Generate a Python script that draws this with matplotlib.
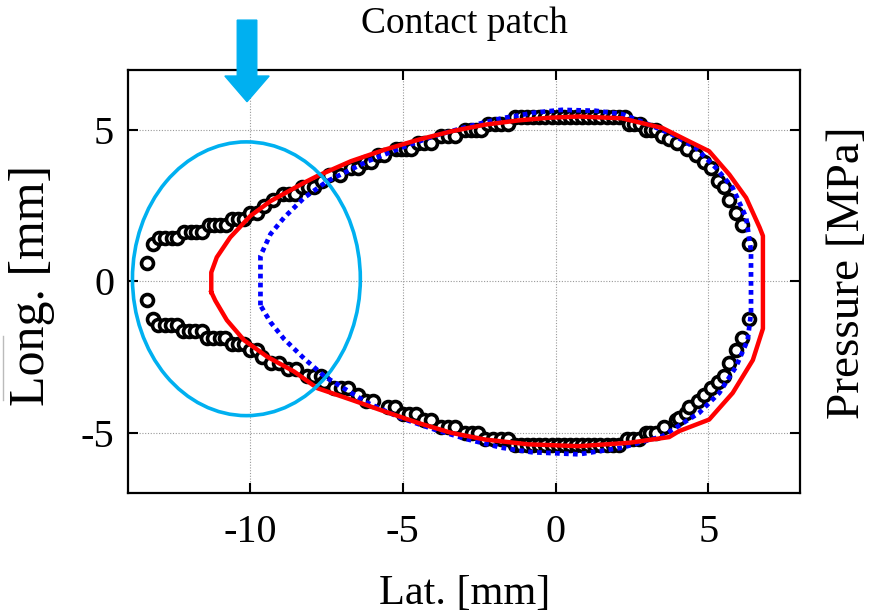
import matplotlib
matplotlib.use("Agg")
import matplotlib.pyplot as plt
from matplotlib.patches import Ellipse, FancyArrow
from matplotlib.lines import Line2D

plt.rcParams['font.family'] = ['Liberation Serif', 'DejaVu Serif']
plt.rcParams['axes.unicode_minus'] = False

# measured contour (black circles), upper branch left -> right
upper_lat = [-13.36, -13.19,
             -12.97, -12.77, -12.57, -12.38,
             -12.15, -11.95, -11.76, -11.57,
             -11.36, -11.17, -10.98, -10.80,
             -10.59, -10.40, -10.20,
             -9.99, -9.78,
             -9.55,
             -9.24,
             -8.92, -8.72, -8.53,
             -8.30, -8.10, -7.90,
             -7.63,
             -7.40, -7.05,
             -6.70, -6.48,
             -6.25, -6.04,
             -5.80, -5.60,
             -5.23, -5.05, -4.88, -4.74,
             -4.50, -4.29, -4.08,
             -3.75, -3.52, -3.29,
             -2.96, -2.78, -2.60, -2.43,
             -2.20, -1.98, -1.77, -1.55,
             -1.33, -1.13, -0.93, -0.73, -0.53, -0.33, -0.13, 0.07, 0.27, 0.47,
             0.67, 0.87, 1.07, 1.27, 1.47, 1.67, 1.87, 2.07, 2.27,
             2.40, 2.58, 2.76,
             2.97, 3.14, 3.30,
             3.50, 3.72,
             3.99,
             4.32,
             4.60,
             4.87,
             5.09,
             5.31,
             5.53,
             5.69,
             5.91,
             6.11,
             6.35]
upper_long = [0.62, 1.23,
              1.44, 1.44, 1.44, 1.44,
              1.65, 1.65, 1.65, 1.65,
              1.86, 1.86, 1.86, 1.86,
              2.07, 2.07, 2.07,
              2.28, 2.28,
              2.49,
              2.70,
              2.91, 2.91, 2.91,
              3.12, 3.12, 3.12,
              3.33,
              3.54, 3.54,
              3.75, 3.75,
              3.96, 3.96,
              4.17, 4.17,
              4.38, 4.38, 4.38, 4.38,
              4.59, 4.59, 4.59,
              4.80, 4.80, 4.80,
              5.01, 5.01, 5.01, 5.01,
              5.22, 5.22, 5.22, 5.22,
              5.43, 5.43, 5.43, 5.43, 5.43, 5.43, 5.43, 5.43, 5.43, 5.43,
              5.43, 5.43, 5.43, 5.43, 5.43, 5.43, 5.43, 5.43, 5.43,
              5.22, 5.22, 5.22,
              5.01, 5.01, 5.01,
              4.80, 4.70,
              4.59,
              4.38,
              4.17,
              3.96,
              3.75,
              3.33,
              3.12,
              2.70,
              2.28,
              1.86,
              1.23]

# lower branch left -> right
lower_lat = [-13.36, -13.17,
             -13.00, -12.80, -12.60, -12.40,
             -12.20, -12.00, -11.79, -11.58,
             -11.40, -11.20, -11.00, -10.81,
             -10.60, -10.40, -10.20,
             -10.00, -9.77,
             -9.60,
             -9.33, -9.05,
             -8.75, -8.50,
             -8.12, -7.90, -7.69,
             -7.58,
             -7.25, -7.03, -6.80,
             -6.48,
             -6.20, -5.99,
             -5.50, -5.27,
             -5.00, -4.79, -4.57,
             -4.29, -4.08,
             -3.75, -3.52, -3.30,
             -2.97, -2.75, -2.53,
             -2.31, -2.06, -1.80, -1.55,
             -1.33, -1.13, -0.93, -0.73, -0.53, -0.33, -0.13, 0.07, 0.27, 0.47,
             0.67, 0.87, 1.07, 1.27, 1.47, 1.67, 1.87, 2.07,
             2.35, 2.54, 2.73,
             2.95, 3.10, 3.28,
             3.55,
             3.94, 4.05,
             4.27,
             4.38,
             4.65,
             4.87,
             5.09,
             5.31,
             5.53,
             5.69,
             5.91,
             6.11,
             6.35]
lower_long = [-0.62, -1.23,
              -1.44, -1.44, -1.44, -1.44,
              -1.65, -1.65, -1.65, -1.65,
              -1.86, -1.86, -1.86, -1.86,
              -2.07, -2.07, -2.07,
              -2.28, -2.28,
              -2.49,
              -2.70, -2.70,
              -2.91, -2.91,
              -3.12, -3.12, -3.12,
              -3.33,
              -3.54, -3.54, -3.54,
              -3.75,
              -3.96, -3.96,
              -4.17, -4.17,
              -4.38, -4.38, -4.38,
              -4.59, -4.59,
              -4.80, -4.80, -4.80,
              -5.01, -5.01, -5.01,
              -5.22, -5.22, -5.22, -5.22,
              -5.40, -5.40, -5.40, -5.40, -5.40, -5.40, -5.40, -5.40, -5.40, -5.40,
              -5.40, -5.40, -5.40, -5.40, -5.40, -5.40, -5.40, -5.40,
              -5.22, -5.22, -5.22,
              -5.01, -5.01, -5.01,
              -4.80,
              -4.59, -4.52,
              -4.35,
              -4.17,
              -3.96,
              -3.75,
              -3.54,
              -3.33,
              -3.12,
              -2.70,
              -2.28,
              -1.86,
              -1.23]

# simulation 1 (red solid), closed contour
red_lat = [-11.27, -11.27, -11.09, -10.65, -9.99, -9.33, -8.23, -7.80, -6.70, -5.60,
           -4.50, -3.41, -2.31, -1.22, -0.20, 0.76, 2.18, 3.50, 4.27, 5.03,
           5.69, 6.24, 6.68, 6.79, 6.79, 6.46, 5.80, 5.03, 4.05, 3.72,
           2.40, 0.76, -0.89, -2.31, -3.41, -4.50, -5.60, -6.70, -7.80, -8.56,
           -9.44, -10.20, -10.76, -11.14, -11.27]
red_long = [-0.35, 0.30, 0.80, 1.46, 2.17, 2.66, 3.27, 3.49, 3.98, 4.36,
            4.69, 4.97, 5.19, 5.33, 5.42, 5.46, 5.40, 5.08, 4.69, 4.31,
            3.54, 2.77, 1.79, 1.51, -1.56, -2.60, -3.69, -4.57, -4.95, -5.15,
            -5.34, -5.45, -5.39, -5.23, -5.01, -4.68, -4.30, -3.91, -3.53, -2.98,
            -2.49, -1.94, -1.28, -0.63, -0.35]

# simulation 2 (blue dotted), closed contour
blue_lat = [-9.66, -9.66, -9.33, -8.89, -8.23, -7.47, -6.15, -5.06, -3.96, -2.86,
            -1.77, -0.67, 0.21, 1.31, 2.18, 2.95, 3.83, 4.59, 5.25, 5.80,
            6.24, 6.40, 6.40, 6.29, 5.91, 5.36, 4.70, 3.50, 2.18, 0.76,
            -0.78, -1.77, -2.86, -3.96, -5.06, -6.15, -7.55, -8.23, -8.89, -9.33,
            -9.66]
blue_long = [-0.79, 0.85, 1.57, 2.11, 2.77, 3.32, 3.98, 4.42, 4.82, 5.13,
             5.40, 5.59, 5.68, 5.65, 5.54, 5.24, 4.86, 4.42, 3.76, 3.10,
             2.12, 1.02, -1.05, -1.94, -2.82, -3.69, -4.35, -5.12, -5.50, -5.72,
             -5.65, -5.50, -5.23, -4.90, -4.52, -4.02, -3.15, -2.55, -1.90, -1.35,
             -0.79]

x_ticks = [-10, -5, 0, 5]
y_ticks = [-5, 0, 5]

fig = plt.figure(figsize=(8.7, 6.16), dpi=100)
ax = fig.add_axes([0.147, 0.1997, 0.7724, 0.6867])

ax.plot(upper_lat, upper_long, 'o', mfc='white', mec='black', ms=8.6, mew=2.6, zorder=3)
ax.plot(lower_lat, lower_long, 'o', mfc='white', mec='black', ms=8.6, mew=2.6, zorder=3)
ax.plot(blue_lat, blue_long, color='#0000ff', lw=3.4, ls=(0, (1, 0.9)), zorder=4)
ax.plot(red_lat, red_long, color='#ff0000', lw=3.2, zorder=5)

ax.add_patch(Ellipse((-10.12, 0.09), 7.46, 9.06, fill=False, ec='#00b0f0', lw=2.6, zorder=6))
ax.add_patch(FancyArrow(-10.1, 8.65, 0, -2.7, width=0.64, head_width=1.45, head_length=0.85,
                        length_includes_head=True, color='#00b0f0', clip_on=False, zorder=7))

ax.set_xlim(-14, 8)
ax.set_ylim(-7, 7)
ax.set_xticks(x_ticks)
ax.set_yticks(y_ticks)
ax.grid(True, color='#999999', ls=(0, (1, 1.5)), lw=0.8)
ax.tick_params(direction='in', length=7, width=1.5, top=True, right=True, labelsize=29)
ax.tick_params(axis='x', pad=15)
ax.tick_params(axis='y', pad=10)
for s in ax.spines.values():
    s.set_linewidth(1.6)

fig.text(0.534, 0.962, 'Contact patch', ha='center', va='center', fontsize=27)
fig.text(0.534, 0.036, 'Lat. [mm]', ha='center', va='center', fontsize=30.5)
fig.text(0.037, 0.537, 'Long. [mm]', ha='center', va='center', rotation=90, fontsize=36)
fig.text(0.975, 0.558, 'Pressure [MPa]', ha='center', va='center', rotation=90, fontsize=34)
fig.add_artist(Line2D([0.003, 0.003], [0.35, 0.455], color='#bbbbbb', lw=1))

fig.savefig('out.png', dpi=100)
